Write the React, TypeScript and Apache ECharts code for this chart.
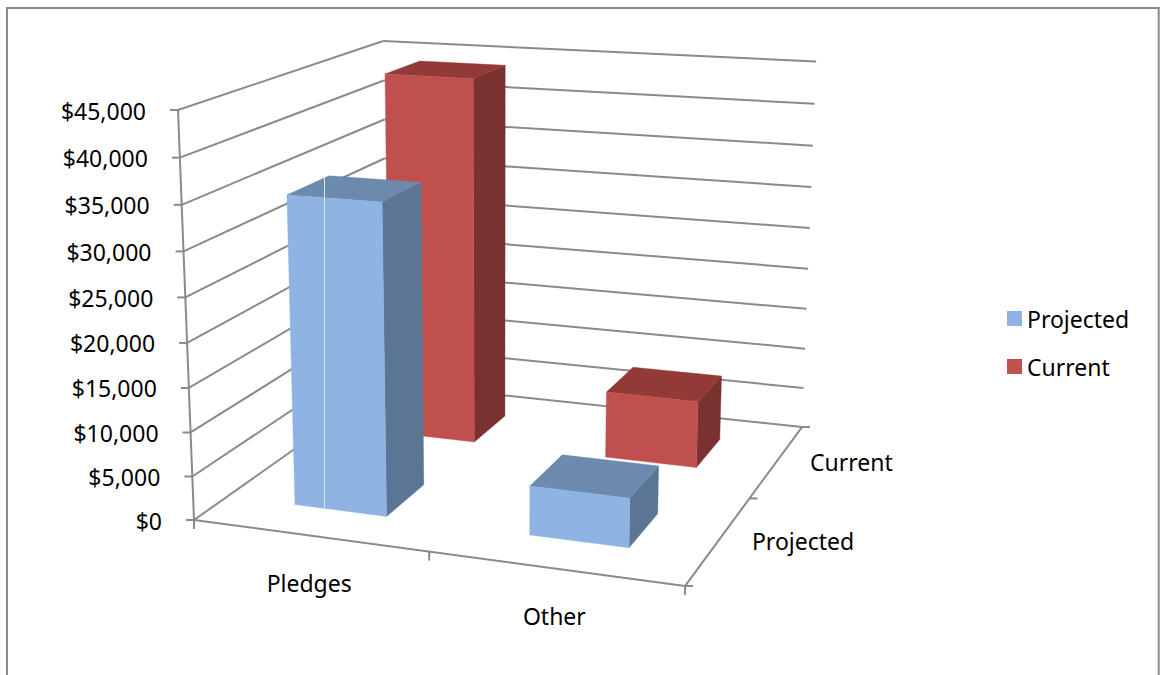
import React, { useEffect, useRef } from "react";
import * as echarts from "echarts";

// Chart data
const categories = ["Pledges", "Other"];
const depthSeries = ["Projected", "Current"];
const projectedValues = [35000, 5500];
const currentValues = [44000, 8000];
const tickValues = [0, 5000, 10000, 15000, 20000, 25000, 30000, 35000, 40000, 45000];
const tickLabels = ["$0", "$5,000", "$10,000", "$15,000", "$20,000", "$25,000", "$30,000", "$35,000", "$40,000", "$45,000"];

const FONT = "'Noto Sans', sans-serif";
const FONT_SIZE = 23;
const LINE = "#8A8A8A";
const BAR_SHARE = 0.4; // share of a category cell taken by a column, on both floor axes

const COLORS: Record<string, { front: string; top: string; side: string }> = {
  Projected: { front: "#8EB4E3", top: "#6C89AE", side: "#5B7595" },
  Current: { front: "#C0504D", top: "#913A38", side: "#7A3230" },
};

// Perspective camera: (u, v, z) in the unit box -> screen pixels.
// u runs along the categories, v up the values, z back through the series.
function project(u: number, v: number, z: number): [number, number] {
  const w = -0.0806 * u - 0.05 * v + 0.2088 * z + 1;
  return [
    (435.8 * u - 24.9 * v + 275 * z + 194) / w,
    (18.8 * u - 415.5 * v - 57 * z + 520) / w,
  ];
}

// Reads the unit-box position of a (category, value) pair through the hidden cartesian axes.
function toUnit(params: any, api: any, category: number, value: number) {
  const cs = params.coordSys;
  const [px, py] = api.coord([category, value]);
  return { u: (px - cs.x) / cs.width, v: (cs.y + cs.height - py) / cs.height };
}

function segment(a: [number, number], b: [number, number], lineWidth = 2) {
  return {
    type: "line",
    shape: { x1: a[0], y1: a[1], x2: b[0], y2: b[1] },
    style: { stroke: LINE, lineWidth, fill: "none" },
  };
}

function label(text: string, x: number, y: number, align: string) {
  return {
    type: "text",
    style: { text, x, y, align, verticalAlign: "middle", fill: "#000", fontFamily: FONT, fontSize: FONT_SIZE },
  };
}

// Walls, floor, ticks and axis labels of the 3D box.
function renderFrame(params: any, api: any) {
  const children: any[] = [];
  const offset = (p: [number, number], dx: number, dy: number): [number, number] => [p[0] + dx, p[1] + dy];

  tickValues.forEach((tick, i) => {
    const { v } = toUnit(params, api, 0, tick);
    const front = project(0, v, 0);
    const back = project(0, v, 1);
    const right = project(1, v, 1);
    children.push(segment(front, back), segment(back, right), segment(front, offset(front, -8, 0)));
    children.push(label(tickLabels[i], front[0] - 32, front[1] + 0.5, "right"));
  });

  const frontLeft = project(0, 0, 0);
  const frontRight = project(1, 0, 0);
  const backRight = project(1, 0, 1);
  children.push(
    segment(frontLeft, project(0, 1, 0)),
    segment(frontLeft, frontRight),
    segment(frontRight, backRight),
  );

  // Tick marks on the two floor axes, at the cell boundaries.
  [0, 0.5, 1].forEach((u) => {
    const p = project(u, 0, 0);
    children.push(segment(p, offset(p, 0, 9)));
  });
  [0, 0.5, 1].forEach((z) => {
    const p = project(1, 0, z);
    children.push(segment(p, offset(p, 8, 0)));
  });

  categories.forEach((name, i) => {
    const { u } = toUnit(params, api, i, 0);
    const p = project(u, 0, 0);
    children.push(label(name, p[0], p[1] + 48, "center"));
  });
  depthSeries.forEach((name, i) => {
    const p = project(1, 0, (i + 0.5) / depthSeries.length);
    children.push(label(name, p[0] + 33, p[1] + 1, "left"));
  });

  return { type: "group", children };
}

// One column: right side, top and front faces of a box standing on the floor.
function renderColumn(depthIndex: number) {
  const name = depthSeries[depthIndex];
  const colors = COLORS[name];
  return (params: any, api: any) => {
    const category = api.value(0);
    const { u, v } = toUnit(params, api, category, api.value(1));
    const halfU = (BAR_SHARE / categories.length) / 2;
    const halfZ = (BAR_SHARE / depthSeries.length) / 2;
    const zc = (depthIndex + 0.5) / depthSeries.length;
    const [u0, u1, z0, z1] = [u - halfU, u + halfU, zc - halfZ, zc + halfZ];
    const face = (points: [number, number][], fill: string) => ({
      type: "polygon",
      shape: { points },
      style: { fill, stroke: fill, lineWidth: 0.4 },
    });
    return {
      type: "group",
      children: [
        face([project(u1, 0, z0), project(u1, 0, z1), project(u1, v, z1), project(u1, v, z0)], colors.side),
        face([project(u0, v, z0), project(u1, v, z0), project(u1, v, z1), project(u0, v, z1)], colors.top),
        face([project(u0, 0, z0), project(u1, 0, z0), project(u1, v, z0), project(u0, v, z0)], colors.front),
      ],
    };
  };
}

function columnSeries(depthIndex: number, values: number[], z: number) {
  const name = depthSeries[depthIndex];
  return {
    type: "custom",
    name,
    z,
    clip: false,
    coordinateSystem: "cartesian2d",
    itemStyle: { color: COLORS[name].front },
    encode: { x: 0, y: 1 },
    data: values.map((value, i) => [i, value]),
    renderItem: renderColumn(depthIndex),
  };
}

export default function App() {
  const ref = useRef<HTMLDivElement>(null);

  useEffect(() => {
    const chart = echarts.init(ref.current!, undefined, { renderer: "svg" });
    chart.setOption({
      animation: false,
      backgroundColor: "#fff",
      grid: { left: 194, top: 109, width: 491, height: 411 },
      xAxis: { type: "category", data: categories, show: false },
      yAxis: { type: "value", min: 0, max: 45000, interval: 5000, show: false },
      legend: {
        data: depthSeries,
        orient: "vertical",
        left: 1007,
        top: 307,
        padding: 0,
        itemWidth: 15,
        itemHeight: 15,
        itemGap: 25,
        icon: "rect",
        textStyle: { fontFamily: FONT, fontSize: FONT_SIZE, color: "#000" },
      },
      graphic: [
        {
          type: "rect",
          z: -1,
          shape: { x: 7, y: 8, width: 1151.7, height: 720 },
          style: { fill: "none", stroke: LINE, lineWidth: 2 },
        },
        {
          // hairline seam running down the Pledges column
          type: "line",
          z: 10,
          shape: { x1: 324.5, y1: 178, x2: 324.5, y2: 508 },
          style: { stroke: "#DCE6F4", lineWidth: 1 },
        },
      ],
      series: [
        {
          type: "custom",
          name: "frame",
          z: 1,
          clip: false,
          coordinateSystem: "cartesian2d",
          encode: { x: 0, y: 1 },
          data: [[0, 0]],
          renderItem: renderFrame,
        },
        columnSeries(1, currentValues, 2),
        columnSeries(0, projectedValues, 3),
      ],
    });
    return () => chart.dispose();
  }, []);

  return <div ref={ref} style={{ position: "absolute", left: 0, top: 0, width: 1160, height: 675 }} />;
}
